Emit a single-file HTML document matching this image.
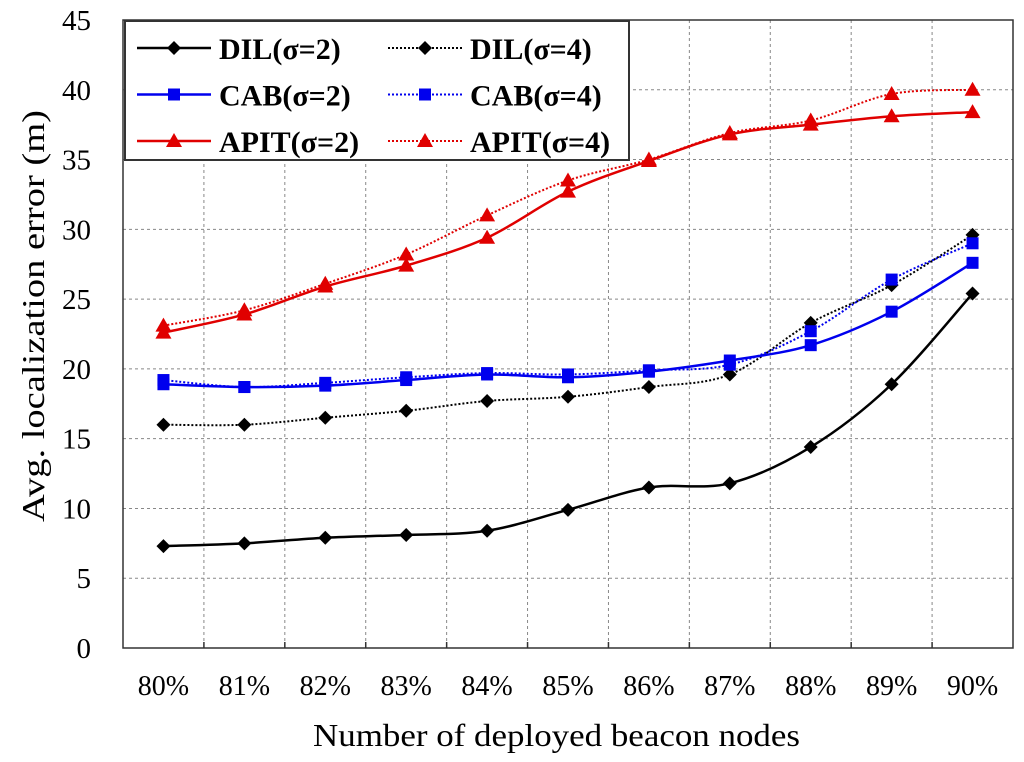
<!DOCTYPE html>
<html><head><meta charset="utf-8"><style>
body{margin:0;background:#fff;}
svg{display:block;font-family:"Liberation Serif",serif;}
</style></head><body>
<svg id="chart" width="1024" height="762"></svg>
<script>
const categories=["80%","81%","82%","83%","84%","85%","86%","87%","88%","89%","90%"];
const yTicks=[0,5,10,15,20,25,30,35,40,45];
const dil2=[7.3,7.5,7.9,8.1,8.4,9.9,11.5,11.8,14.4,18.9,25.4];
const dil4=[16,16,16.5,17,17.7,18,18.7,19.6,23.3,26,29.6];
const cab2=[18.9,18.7,18.8,19.2,19.6,19.4,19.8,20.6,21.7,24.1,27.6];
const cab4=[19.2,18.7,19,19.4,19.7,19.6,19.9,20.3,22.7,26.4,29];
const apit2=[22.6,23.9,25.9,27.4,29.4,32.7,34.9,36.8,37.5,38.1,38.4];
const apit4=[23.1,24.2,26.1,28.2,31,33.5,35,36.9,37.8,39.7,40];
const seriesNames=["DIL(σ=2)","DIL(σ=4)","CAB(σ=2)","CAB(σ=4)","APIT(σ=2)","APIT(σ=4)"];

const NS="http://www.w3.org/2000/svg";
const svg=document.getElementById('chart');
const L=123,R=1013,T=20,B=648,YMAX=45;
const bw=(R-L)/categories.length;
const x=i=>L+bw*(i+0.5);
const y=v=>B-(v/YMAX)*(B-T);
function el(tag,attrs,parent){const e=document.createElementNS(NS,tag);for(const k in attrs)e.setAttribute(k,attrs[k]);(parent||svg).appendChild(e);return e;}

for(let i=1;i<categories.length;i++){
  const g=el('line',{x1:L+bw*i,x2:L+bw*i,y1:T,y2:B,stroke:'#888','stroke-dasharray':'3,3','stroke-width':1});
  
  
  const t=el('line',{x1:L+bw*i,x2:L+bw*i,y1:B-6,y2:B,stroke:'#333','stroke-width':1.5});
  
  
}
yTicks.forEach(v=>{
  if(v>0){const g=el('line',{x1:L,x2:R,y1:y(v),y2:y(v),stroke:'#888','stroke-dasharray':'3,3','stroke-width':1});
  
  }
  const t=el('text',{x:91,y:y(v)+10,'text-anchor':'end','font-size':29});
  t.textContent=v;
  
  
});
const frame=el('rect',{x:L,y:T,width:R-L,height:B-T,fill:'none',stroke:'#333','stroke-width':1.5});


categories.forEach((c,i)=>{
  const t=el('text',{x:x(i),y:695,'text-anchor':'middle','font-size':28});
  t.textContent=c;
  
  
});
const xt=el('text',{x:313,y:746,'font-size':32,textLength:487,lengthAdjust:'spacingAndGlyphs'});
xt.textContent='Number of deployed beacon nodes';


const yt=el('text',{x:-522,y:0,'font-size':32,textLength:412,lengthAdjust:'spacingAndGlyphs',transform:'translate(44,0) rotate(-90)'});
yt.textContent='Avg. localization error (m)';



function smooth(pts){
  let d=`M${pts[0][0]},${pts[0][1]}`;
  for(let i=0;i<pts.length-1;i++){
    const p0=pts[Math.max(0,i-1)],p1=pts[i],p2=pts[i+1],p3=pts[Math.min(pts.length-1,i+2)];
    const c1=[p1[0]+(p2[0]-p0[0])/6,p1[1]+(p2[1]-p0[1])/6];
    const c2=[p2[0]-(p3[0]-p1[0])/6,p2[1]-(p3[1]-p1[1])/6];
    d+=` C${c1[0]},${c1[1]} ${c2[0]},${c2[1]} ${p2[0]},${p2[1]}`;
  }
  return d;
}
function marker(type,cx,cy,color,parent){
  let m;
  if(type==='d') m=el('polygon',{points:`${cx},${cy-7} ${cx+7},${cy} ${cx},${cy+7} ${cx-7},${cy}`,fill:color},parent);
  else if(type==='s') m=el('rect',{x:cx-6,y:cy-6,width:12,height:12,fill:color},parent);
  else m=el('polygon',{points:`${cx},${cy-8} ${cx+8},${cy+6} ${cx-8},${cy+6}`,fill:color},parent);
  return m;
}
const defs=[[dil2,'#000','d',false],[dil4,'#000','d',true],[cab2,'#0000ee','s',false],[cab4,'#0000ee','s',true],[apit2,'#e00000','t',false],[apit4,'#e00000','t',true]];
defs.forEach((s,k)=>{
  const g=el('g',{});
  
  
  const pts=s[0].map((v,i)=>[x(i),y(v)]);
  el('path',{d:smooth(pts),fill:'none',stroke:s[1],'stroke-width':s[3]?2:2.5,'stroke-dasharray':s[3]?'2,2':'none'},g);
  pts.forEach(pt=>{const m=marker(s[2],pt[0],pt[1],s[1],g);
    
    });
});

const lg=el('g',{});


el('rect',{x:125,y:21,width:504,height:139,fill:'#fff',stroke:'#333','stroke-width':2},lg);
defs.forEach((s,k)=>{
  const col=k%2,row=Math.floor(k/2);
  const lx=col?388:137,ly=48+row*46.5;
  const e=el('g',{},lg);
  
  
  el('line',{x1:lx,x2:lx+74,y1:ly,y2:ly,stroke:s[1],'stroke-width':s[3]?2:2.5,'stroke-dasharray':s[3]?'2,2':'none'},e);
  marker(s[2],lx+37,ly,s[1],e);
  const t=el('text',{x:lx+82,y:ly+11,'font-size':30,'font-weight':'bold'},e);
  t.textContent=seriesNames[k];
});
</script>
</body></html>
